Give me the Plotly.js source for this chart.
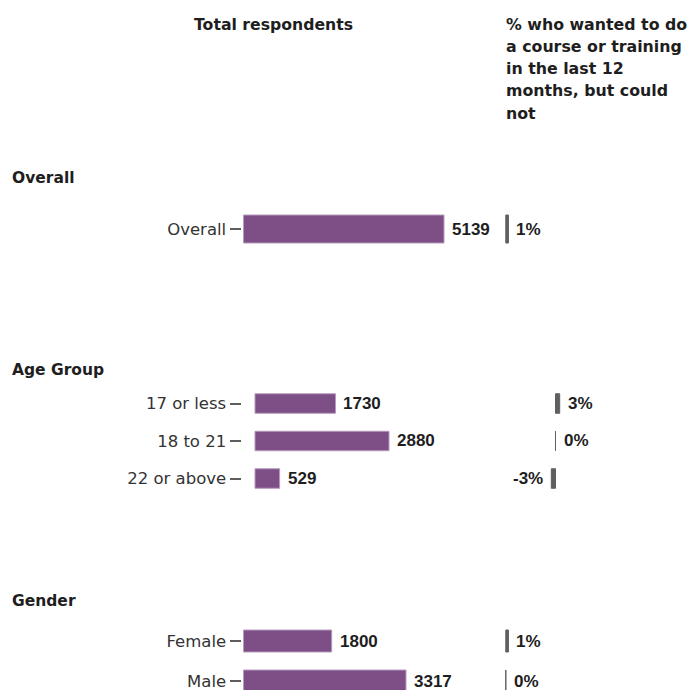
<!DOCTYPE html>
<html><head><meta charset="utf-8">
<script src="https://cdn.plot.ly/plotly-3.0.1.min.js"></script>
<style>html,body{margin:0;padding:0;background:#fff}</style>
</head><body><div id="chart" style="width:688px;height:690px"></div>
<script>
// ---- data ----
const groupNames = ["Overall", "Age Group", "Gender"];
const overallCats = ["Overall"];
const overallCounts = [5139];
const overallPct = [1];
const ageCats = ["17 or less", "18 to 21", "22 or above"];
const ageCounts = [1730, 2880, 529];
const agePct = [3, 0, -3];
const genderCats = ["Female", "Male"];
const genderCounts = [1800, 3317];
const genderPct = [1, 0];
const leftTitle = "Total respondents";
const rightTitleLines = ["% who wanted to do", "a course or training", "in the last 12", "months, but could", "not"];

// ---- layout config (pixels) ----
const W = 688, H = 690;
const px = v => v / W;
const py = v => 1 - v / H;
const FONT = "DejaVu Sans";
const VFONT = "Liberation Sans";
const rows = [
  {name: groupNames[0], cats: overallCats, counts: overallCounts, pct: overallPct,
   header: 178, top: 202, bot: 256, step: 54, barPx: 28, zero: 243.5, ppu: 200.5/5139, pzero: 505.8, pppu: 2.6},
  {name: groupNames[1], cats: ageCats, counts: ageCounts, pct: agePct,
   header: 370, top: 384.75, bot: 497.25, step: 37.5, barPx: 19.5, zero: 255, ppu: 134/2880, pzero: 555.5, pppu: 1.4},
  {name: groupNames[2], cats: genderCats, counts: genderCounts, pct: genderPct,
   header: 601, top: 621, bot: 690, step: 40, barPx: 22, zero: 243.5, ppu: 162.5/3317, pzero: 505.8, pppu: 2.6}
];
const c1 = [241.5, 470], c2 = [480, 640];

const data = [], annotations = [];
const layout = {
  width: W, height: H, margin: {l: 0, r: 0, t: 0, b: 0},
  paper_bgcolor: "#fff", plot_bgcolor: "rgba(0,0,0,0)",
  showlegend: false, font: {family: FONT, color: "#333"},
  annotations: annotations
};

rows.forEach((r, i) => {
  const k = i + 1;
  const xa = "x" + (2*i + 1), xb = "x" + (2*i + 2), ya = "y" + k;
  const xaName = "xaxis" + (2*i + 1), xbName = "xaxis" + (2*i + 2), yaName = "yaxis" + k;
  const barW = r.barPx / r.step;
  layout[yaName] = {
    domain: [py(r.bot), py(r.top)], anchor: xa, type: "category",
    categoryarray: r.cats, range: [-0.5 + (r.bot - r.top)/r.step, -0.5],
    showgrid: false, zeroline: false, showline: false,
    ticks: "outside", ticklen: 11, tickwidth: 2, tickcolor: "#5e5e5e",
    tickfont: {family: FONT, size: 16.5, color: "#333"}
  };
  layout[xaName] = {
    domain: [px(c1[0]), px(c1[1])], anchor: ya, visible: false,
    range: [(c1[0] - r.zero)/r.ppu, (c1[1] - r.zero)/r.ppu]
  };
  layout[xbName] = {
    domain: [px(c2[0]), px(c2[1])], anchor: ya, visible: false,
    range: [(c2[0] - r.pzero)/r.pppu, (c2[1] - r.pzero)/r.pppu]
  };
  data.push({
    type: "bar", orientation: "h", y: r.cats, x: r.counts, xaxis: xa, yaxis: ya,
    width: barW, marker: {color: "#7e4e86", line: {color: "#b69bbb", width: 1}},
    hoverinfo: "none"
  });
  data.push({
    type: "bar", orientation: "h", y: r.cats, x: r.pct, xaxis: xb, yaxis: ya,
    width: barW, marker: {color: "#5f5f5f", line: {color: "#5f5f5f", width: 1}},
    hoverinfo: "none"
  });
  r.cats.forEach((c, j) => {
    annotations.push({
      xref: xa, yref: ya, x: r.counts[j], y: c, text: String(r.counts[j]),
      xanchor: "left", yanchor: "middle", xshift: 6, showarrow: false,
      font: {family: VFONT, size: 17, weight: "bold", color: "#1e1e1e"}
    });
    const v = r.pct[j];
    annotations.push({
      xref: xb, yref: ya, x: v, y: c, text: v + "%",
      xanchor: v < 0 ? "right" : "left", yanchor: "middle", xshift: v < 0 ? -6 : 6,
      showarrow: false,
      font: {family: VFONT, size: 17, weight: "bold", color: "#1e1e1e"}
    });
  });
  annotations.push({
    xref: "paper", yref: "paper", x: px(10), y: py(r.header), text: r.name,
    xanchor: "left", yanchor: "middle", showarrow: false,
    font: {family: FONT, size: 15.5, weight: "bold", color: "#1e1e1e"}
  });
});

annotations.push({
  xref: "paper", yref: "paper", x: px(273), y: py(24), text: leftTitle,
  xanchor: "center", yanchor: "middle", showarrow: false,
  font: {family: FONT, size: 15.7, weight: "bold", color: "#1e1e1e"}
});
rightTitleLines.forEach((t, j) => {
  annotations.push({
    xref: "paper", yref: "paper", x: px(504), y: py(24 + 22.3*j), text: t,
    xanchor: "left", yanchor: "middle", showarrow: false,
    font: {family: FONT, size: 15.8, weight: "bold", color: "#1e1e1e"}
  });
});

Plotly.newPlot("chart", data, layout, {staticPlot: true, displayModeBar: false});
</script></body></html>
